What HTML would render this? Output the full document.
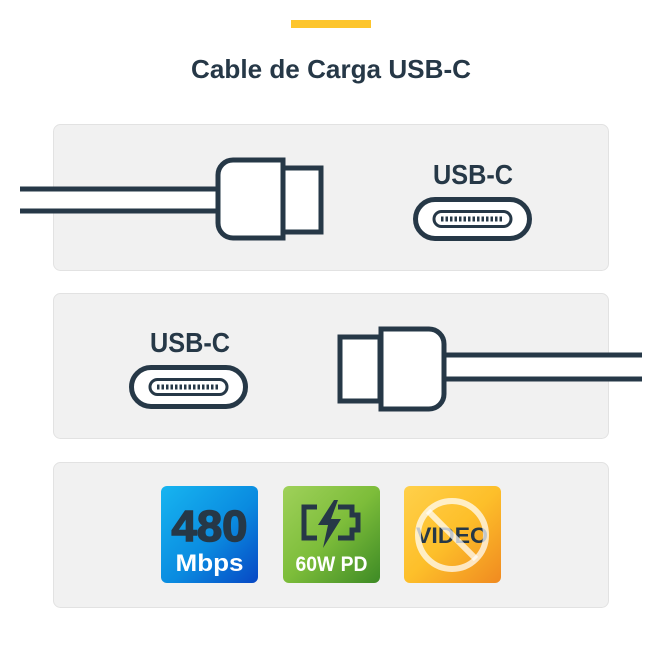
<!DOCTYPE html>
<html><head><meta charset="utf-8"><style>
html,body{margin:0;padding:0;background:#fff;}
svg{display:block;}
text{font-family:"Liberation Sans",sans-serif;font-weight:bold;}
</style></head><body>
<svg width="662" height="662" viewBox="0 0 662 662" xmlns="http://www.w3.org/2000/svg">
<defs>
<linearGradient id="gb" x1="0" y1="0" x2="1" y2="1"><stop offset="0" stop-color="#17b5f0"/><stop offset="0.55" stop-color="#0a8be0"/><stop offset="1" stop-color="#0747c4"/></linearGradient>
<linearGradient id="gg" x1="0" y1="0" x2="1" y2="1"><stop offset="0" stop-color="#9fd15a"/><stop offset="0.5" stop-color="#7dbd3a"/><stop offset="1" stop-color="#3d8a25"/></linearGradient>
<linearGradient id="go" x1="0" y1="0" x2="1" y2="1"><stop offset="0" stop-color="#ffd04a"/><stop offset="0.5" stop-color="#fdbf2a"/><stop offset="1" stop-color="#f08a20"/></linearGradient>
</defs>
<rect x="291" y="20" width="80" height="8" fill="#fdc52c"/>
<text x="331" y="78" text-anchor="middle" font-size="26" fill="#263847" textLength="280" lengthAdjust="spacingAndGlyphs">Cable de Carga USB-C</text>

<rect x="53.5" y="124.5" width="555" height="146" rx="7" fill="#f1f1f1" stroke="#e2e2e2"/>
<rect x="53.5" y="293.5" width="555" height="145" rx="7" fill="#f1f1f1" stroke="#e2e2e2"/>
<rect x="53.5" y="462.5" width="555" height="145" rx="7" fill="#f1f1f1" stroke="#e2e2e2"/>

<g stroke="#263847" stroke-width="5" fill="#fff">
<rect x="20" y="191" width="200" height="18" stroke="none"/>
<line x1="20" y1="189" x2="218" y2="189"/>
<line x1="20" y1="211" x2="218" y2="211"/>
<rect x="283" y="168" width="38" height="64"/>
<path d="M233,160 H283 V238 H233 A15,15 0 0 1 218,223 V175 A15,15 0 0 1 233,160 Z"/>

<rect x="446" y="357" width="196" height="20" stroke="none"/>
<line x1="444" y1="355" x2="642" y2="355"/>
<line x1="444" y1="379" x2="642" y2="379"/>
<rect x="340" y="337" width="40" height="64"/>
<path d="M381,329 H429 A15,15 0 0 1 444,344 V394 A15,15 0 0 1 429,409 H381 Z"/>

<rect x="415.5" y="199.5" width="114" height="39" rx="19.5"/>
<rect x="131.5" y="367.5" width="114" height="39" rx="19.5"/>
</g>
<g stroke="#263847" fill="none">
<rect x="434" y="211.5" width="77" height="15" rx="7.5" stroke-width="3"/>
<line x1="441" y1="219" x2="504" y2="219" stroke-width="5" stroke-dasharray="2.5 2"/>
<rect x="150" y="379.5" width="77" height="15" rx="7.5" stroke-width="3"/>
<line x1="157" y1="387" x2="220" y2="387" stroke-width="5" stroke-dasharray="2.5 2"/>
</g>
<text x="473" y="184" text-anchor="middle" font-size="28" fill="#263847" textLength="80" lengthAdjust="spacingAndGlyphs">USB-C</text>
<text x="190" y="352" text-anchor="middle" font-size="28" fill="#263847" textLength="80" lengthAdjust="spacingAndGlyphs">USB-C</text>

<rect x="161" y="486" width="97" height="97" rx="6" fill="url(#gb)"/>
<text x="209.5" y="541" text-anchor="middle" font-size="44" fill="#263847" stroke="#263847" stroke-width="1.5" textLength="76" lengthAdjust="spacingAndGlyphs">480</text>
<text x="209.5" y="571" text-anchor="middle" font-size="24" fill="#fff" textLength="68" lengthAdjust="spacingAndGlyphs">Mbps</text>

<rect x="283" y="486" width="97" height="97" rx="6" fill="url(#gg)"/>
<g fill="none" stroke="#263847" stroke-width="5">
<path d="M317,507 H304 V538 H317"/>
<path d="M338,507 H352 V515 H358 V530 H352 V538 H338"/>
</g>
<path d="M334,500 L318,525 H328 L323,548 L341,519 H331 L338,500 Z" fill="#263847"/>
<text x="331.5" y="571" text-anchor="middle" font-size="21" fill="#fff" textLength="72" lengthAdjust="spacingAndGlyphs">60W PD</text>

<rect x="404" y="486" width="97" height="97" rx="6" fill="url(#go)"/>
<text x="452" y="543" text-anchor="middle" font-size="22" fill="#263847" textLength="72" lengthAdjust="spacingAndGlyphs">VIDEO</text>
<g stroke="#fff" stroke-opacity="0.72" stroke-width="6" fill="none">
<circle cx="452" cy="535" r="34"/>
<line x1="428" y1="511" x2="476" y2="559"/>
</g>
</svg>
</body></html>
